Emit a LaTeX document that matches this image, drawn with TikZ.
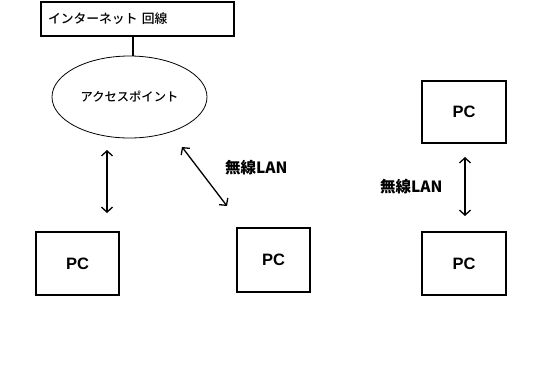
\documentclass[tikz,border=0pt]{standalone}
\usepackage{fontspec}
\setmainfont{Liberation Sans}
\newfontfamily\jp{Noto Sans CJK JP}
\newfontfamily\jpm{Noto Sans CJK JP Medium}
\usetikzlibrary{arrows.meta,shapes.geometric}
\begin{document}
\begin{tikzpicture}[x=1pt,y=-1pt,
  pcbox/.style={draw,line width=2pt,inner sep=0pt,font=\fontsize{16.5}{18}\selectfont\bfseries},
  wlarrow/.style={line width=1.3pt,{Straight Barb[length=5pt,width=11pt]}-{Straight Barb[length=5pt,width=11pt]}},
  wllabel/.style={font=\jp\fontsize{15.5}{17}\selectfont\bfseries,inner sep=0pt}]
\useasboundingbox (0,0) rectangle (552,373);
\fill[white] (0,0) rectangle (552,373);
\node[draw,line width=2pt,minimum width=193pt,minimum height=34pt,text width=178pt,align=left,inner xsep=7pt,inner ysep=0pt,font=\jpm\fontsize{12.8}{14}\selectfont] (net) at (137,19) {インターネット 回線};
\node[draw,ellipse,line width=0.8pt,minimum width=155pt,minimum height=82pt,inner sep=0pt,font=\jpm\fontsize{12.3}{14}\selectfont] (ap) at (129.5,97) {アクセスポイント};
\draw[line width=2pt] (net.south -| 133,0) -- (ap.north -| 133,0);
\node[pcbox,minimum width=83pt,minimum height=63pt] (pc1) at (77.5,263.5) {PC\hspace{8pt}};
\node[pcbox,minimum width=73pt,minimum height=64pt] (pc2) at (273.5,260) {PC\hspace{8pt}};
\node[pcbox,minimum width=84pt,minimum height=62pt] (pc3) at (464,112) {PC\hspace{8pt}};
\node[pcbox,minimum width=84pt,minimum height=63pt] (pc4) at (464,263.5) {PC\hspace{8pt}};
\coordinate (a1s) at (107,150);
\coordinate (a1e) at (107,213);
\coordinate (a2s) at (182,147);
\coordinate (a2e) at (227,206);
\coordinate (a3s) at (465,157);
\coordinate (a3e) at (465,216);
\draw[wlarrow] (a1s) -- (a1e);
\draw[wlarrow] (a2s) -- (a2e);
\draw[wlarrow] (a3s) -- (a3e);
\node[wllabel,anchor=west] (wl1) at (225,168) {無線LAN};
\node[wllabel,anchor=west] (wl2) at (380,187) {無線LAN};
\end{tikzpicture}
\end{document}
